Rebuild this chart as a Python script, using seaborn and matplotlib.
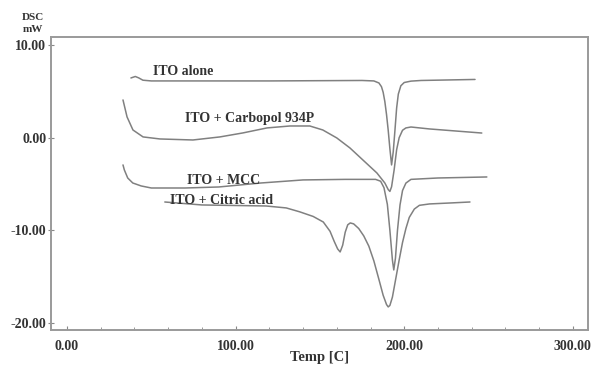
import matplotlib
matplotlib.use("Agg")
import matplotlib.pyplot as plt
import seaborn as sns
import pandas as pd
from matplotlib.ticker import MultipleLocator

# --- data (Temp [C], DSC mW) ---
alone_t = [37.9, 40.5, 42.5, 45, 50, 60, 120, 175, 182, 185, 186.5, 187.5, 188.5, 189.5, 190.5, 191.5, 192.5,
           193.5, 194.5, 195.5, 196.5, 198, 200, 204, 210, 242]
alone_y = [6.44, 6.6, 6.45, 6.2, 6.12, 6.12, 6.12, 6.17, 6.12, 5.9, 5.5, 4.9, 3.9, 2.5, 0.8, -1.2, -2.94,
           -1.5, 0.8, 3.2, 4.7, 5.6, 5.95, 6.1, 6.17, 6.28]

carbopol_t = [33.2, 35.6, 39.1, 45.1, 55.1, 74.7, 90.7, 104.3, 118.6, 132.2, 144.0, 151.7, 160.0, 167.8,
              175.5, 183.8, 188.5, 190.5, 191.5, 192.5, 194, 195.5, 197, 199, 201, 204, 215, 246]
carbopol_y = [4.07, 2.24, 0.83, 0.08, -0.14, -0.25, 0.08, 0.51, 1.05, 1.26, 1.26, 0.83, -0.03, -1.11,
              -2.41, -3.81, -4.89, -5.6, -5.8, -5.3, -3.5, -1.3, 0.0, 0.8, 1.05, 1.15, 0.94, 0.5]

mcc_t = [33.2, 34, 36, 39, 44, 50, 70, 90, 115, 140, 165, 183, 186, 188, 190, 191.5, 193, 193.8, 194.8,
         196, 197.5, 199, 201, 204, 220, 249]
mcc_y = [-2.94, -3.48, -4.35, -4.89, -5.21, -5.43, -5.43, -5.32, -4.89, -4.56, -4.5, -4.5, -4.7, -5.4,
         -7.2, -10.0, -13.2, -14.27, -13.0, -10.0, -7.26, -5.7, -4.9, -4.5, -4.35, -4.24]

citric_t = [58, 80, 118, 130, 138, 146, 152, 156, 158.5, 160.5, 162, 163.5, 165, 166.5, 168, 170, 173,
            176, 179, 182, 185, 187.5, 189.5, 190.5, 191.5, 193, 195, 197, 199, 201, 203, 206, 209, 215, 228, 239]
citric_y = [-6.94, -7.26, -7.37, -7.58, -8.0, -8.5, -9.1, -10.1, -11.2, -12.0, -12.33, -11.6, -10.2, -9.4,
            -9.2, -9.3, -9.8, -10.6, -11.7, -13.3, -15.3, -17.0, -18.0, -18.26, -18.1, -17.2, -15.2, -13.2,
            -11.3, -9.8, -8.6, -7.7, -7.3, -7.15, -7.04, -6.94]

series_names = ["ITO alone", "ITO + Carbopol 934P", "ITO + MCC", "ITO + Citric acid"]
x_ticks = [0, 100, 200, 300]
x_tick_labels = ["0.00", "100.00", "200.00", "300.00"]
y_ticks = [10, 0, -10, -20]
y_tick_labels = ["10.00", "0.00", "-10.00", "-20.00"]

frames = []
for name, t, y in zip(series_names,
                      [alone_t, carbopol_t, mcc_t, citric_t],
                      [alone_y, carbopol_y, mcc_y, citric_y]):
    frames.append(pd.DataFrame({"Temp": t, "DSC": y, "sample": name}))
df = pd.concat(frames, ignore_index=True)

sns.set_style("white")
plt.rcParams["font.family"] = ["Liberation Serif", "DejaVu Serif"]

fig = plt.figure(figsize=(5.98, 3.67), dpi=100)
ax = fig.add_axes([51/598, 1-330/367, (588-51)/598, (330-37)/367])

line_col = "#808080"
sns.lineplot(data=df, x="Temp", y="DSC", hue="sample", units="sample",
             estimator=None, sort=False, legend=False,
             palette={n: line_col for n in series_names}, linewidth=1.1, ax=ax)

ax.set_xlim(-9.5, 309)
ax.set_ylim(-20.75, 10.86)

ax.set_xticks(x_ticks)
ax.set_xticklabels(x_tick_labels, fontsize=10, fontweight="bold", color="#333333")
ax.set_yticks(y_ticks)
ax.set_yticklabels(y_tick_labels, fontsize=10, fontweight="bold", color="#333333")
ax.xaxis.set_minor_locator(MultipleLocator(20))
ax.tick_params(axis="x", which="both", direction="in", length=3, color="#888888", pad=7)
ax.tick_params(axis="y", which="major", direction="inout", length=4, color="#888888", pad=1.5)
ax.tick_params(left=True, bottom=True)
ax.tick_params(axis="x", which="minor", bottom=True, length=2.5)

for s in ax.spines.values():
    s.set_color("#9a9a9a")
    s.set_linewidth(1.4)

ax.set_xlabel("")
ax.set_ylabel("")
fig.text(320/598, 1-358/367, "Temp [C]", ha="center", va="center",
         fontsize=10.5, fontweight="bold", color="#333333")
fig.text(33/598, 1-17/367, "DSC", ha="center", va="center",
         fontsize=8, fontweight="bold", color="#333333")
fig.text(33/598, 1-29/367, "mW", ha="center", va="center",
         fontsize=8, fontweight="bold", color="#333333")

label_pos = [(51, 7.1), (70, 2.1), (71, -4.6), (61, -6.8)]
for name, (tx, ty) in zip(series_names, label_pos):
    ax.text(tx, ty, name, fontsize=10, fontweight="bold", color="#333333",
            ha="left", va="center")

fig.savefig("out.png", dpi=100)
